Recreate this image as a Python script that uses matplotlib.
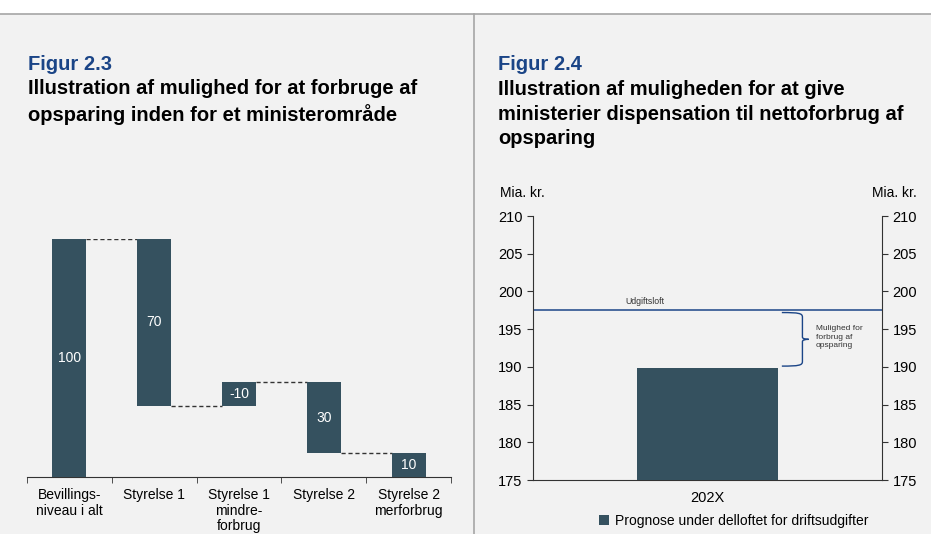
import numpy as np
import matplotlib.pyplot as plt
from matplotlib.path import Path
from matplotlib.patches import PathPatch
from matplotlib.lines import Line2D

plt.rcParams['font.family'] = ['Liberation Sans', 'DejaVu Sans']

# data - figur 2.3 (waterfall)
categories = ['Bevillings-\nniveau i alt', 'Styrelse 1', 'Styrelse 1\nmindre-\nforbrug',
              'Styrelse 2', 'Styrelse 2\nmerforbrug']
bar_bottoms = [0, 30, 30, 10, 0]
bar_tops = [100, 100, 40, 40, 10]
bar_labels = ['100', '70', '-10', '30', '10']

# data - figur 2.4
year = ['202X']
prognose = [189.8]
udgiftsloft = 197.6

W, H = 931, 534
bar_col = '#35515f'
bg = '#f2f2f2'
blue = '#1b4587'

fig = plt.figure(figsize=(W / 100, H / 100), dpi=100)
fig.patch.set_facecolor('white')

# grey panel background + divider lines
fig.patches.append(plt.Rectangle((0, 0), 1, (H - 14) / H, transform=fig.transFigure,
                                 facecolor=bg, edgecolor='none', zorder=-5))
fig.add_artist(Line2D([0, 1], [(H - 14) / H] * 2, color='#a6a6a6', lw=1.2))
fig.add_artist(Line2D([474 / W] * 2, [0, (H - 14) / H], color='#a6a6a6', lw=1.2))

# titles
fig.text(28 / W, 1 - 65 / H, 'Figur 2.3', color=blue, fontsize=14.5, fontweight='bold', va='center')
fig.text(28 / W, 1 - 102 / H, 'Illustration af mulighed for at forbruge af\nopsparing inden for et ministerområde',
         fontsize=14.5, fontweight='bold', va='center', linespacing=1.38)
fig.text(498 / W, 1 - 65 / H, 'Figur 2.4', color=blue, fontsize=14.5, fontweight='bold', va='center')
fig.text(498 / W, 1 - 114 / H, 'Illustration af muligheden for at give\nministerier dispensation til nettoforbrug af\nopsparing',
         fontsize=14.5, fontweight='bold', va='center', linespacing=1.38)

# ---- left: waterfall
ax1 = fig.add_axes([27 / W, (H - 477) / H, 424 / W, 238 / H])
ax1.set_facecolor('none')
x = np.arange(len(categories))
heights = np.array(bar_tops) - np.array(bar_bottoms)
ax1.bar(x, heights, bottom=bar_bottoms, width=0.4, color=bar_col, zorder=3)
for i in range(len(x)):
    ax1.text(x[i], bar_bottoms[i] + heights[i] / 2, bar_labels[i], color='white',
             ha='center', va='center', fontsize=10, zorder=4)
# connectors
conn = [bar_tops[0], bar_bottoms[1], bar_tops[2], bar_bottoms[3]]
for i in range(len(conn)):
    ax1.plot([x[i] + 0.2, x[i + 1] - 0.2], [conn[i], conn[i]], color='#333333',
             ls=(0, (3, 2)), lw=1, zorder=2)
ax1.set_xlim(-0.5, len(categories) - 0.5)
ax1.set_ylim(0, 100)
for s in ['top', 'left', 'right']:
    ax1.spines[s].set_visible(False)
ax1.spines['bottom'].set_color('#333333')
ax1.set_yticks([])
ax1.set_xticks(x)
ax1.set_xticklabels(categories, fontsize=10, linespacing=1.15)
ax1.tick_params(axis='x', which='major', length=0, pad=8)
ax1.set_xticks(np.arange(-0.5, len(categories)), minor=True)
ax1.tick_params(axis='x', which='minor', length=4, color='#333333', direction='out')

# ---- right: bar with ceiling
ax2 = fig.add_axes([533 / W, (H - 480) / H, 349 / W, 264 / H])
ax2.set_facecolor('none')
ax2.bar([0], [p - 175 for p in prognose], bottom=175, width=0.404, color=bar_col,
        label='Prognose under delloftet for driftsudgifter', zorder=3)
ax2.axhline(udgiftsloft, color=blue, lw=1.1, zorder=2)
ax2.text(-0.18, udgiftsloft + 0.5, 'Udgiftsloft', fontsize=6.3, ha='center', va='bottom', color='#333333')
ax2.set_xlim(-0.5, 0.5)
ax2.set_ylim(175, 210)
ax2.set_xticks([0])
ax2.set_xticklabels(year, fontsize=10.5)
ax2.tick_params(axis='x', length=0, pad=8)
ax2.set_yticks(np.arange(175, 211, 5))
ax2.tick_params(axis='y', labelsize=10.5, length=4, color='#333333', direction='out',
                left=True, right=True, labelleft=True, labelright=True)
ax2.spines['top'].set_visible(False)
for s in ['left', 'right', 'bottom']:
    ax2.spines[s].set_color('#333333')
ax2.text(500 / W, 1 - 193 / H, 'Mia. kr.', transform=fig.transFigure, fontsize=10, ha='left', va='center')
ax2.text(917 / W, 1 - 193 / H, 'Mia. kr.', transform=fig.transFigure, fontsize=10, ha='right', va='center')

# brace
y0 = udgiftsloft - 0.4
y1 = prognose[0] + 0.3
ym = (y0 + y1) / 2
xa, xb, xc = 0.213, 0.272, 0.29
verts = [(xa, y0), (xb - 0.01, y0), (xb, y0 - 0.1), (xb, y0 - 0.6),
         (xb, ym + 0.3), (xb, ym), (xc, ym),
         (xb, ym), (xb, ym - 0.3), (xb, y1 + 0.6),
         (xb, y1 + 0.1), (xb - 0.01, y1), (xa, y1)]
codes = [Path.MOVETO, Path.CURVE4, Path.CURVE4, Path.CURVE4,
         Path.LINETO, Path.CURVE3, Path.CURVE3,
         Path.CURVE3, Path.CURVE3, Path.LINETO,
         Path.CURVE4, Path.CURVE4, Path.CURVE4]
ax2.add_patch(PathPatch(Path(verts, codes), facecolor='none', edgecolor=blue, lw=1, clip_on=False))
ax2.text(0.31, ym + 0.3, 'Mulighed for\nforbrug af\nopsparing', fontsize=6, va='center', ha='left',
         color='#333333', linespacing=1.3)

leg = ax2.legend(loc='center', bbox_to_anchor=(0.575, -0.155), frameon=False, fontsize=10,
                 handlelength=0.75, handleheight=0.75, handletextpad=0.4)

fig.savefig('out.png', dpi=100, facecolor=fig.get_facecolor())
